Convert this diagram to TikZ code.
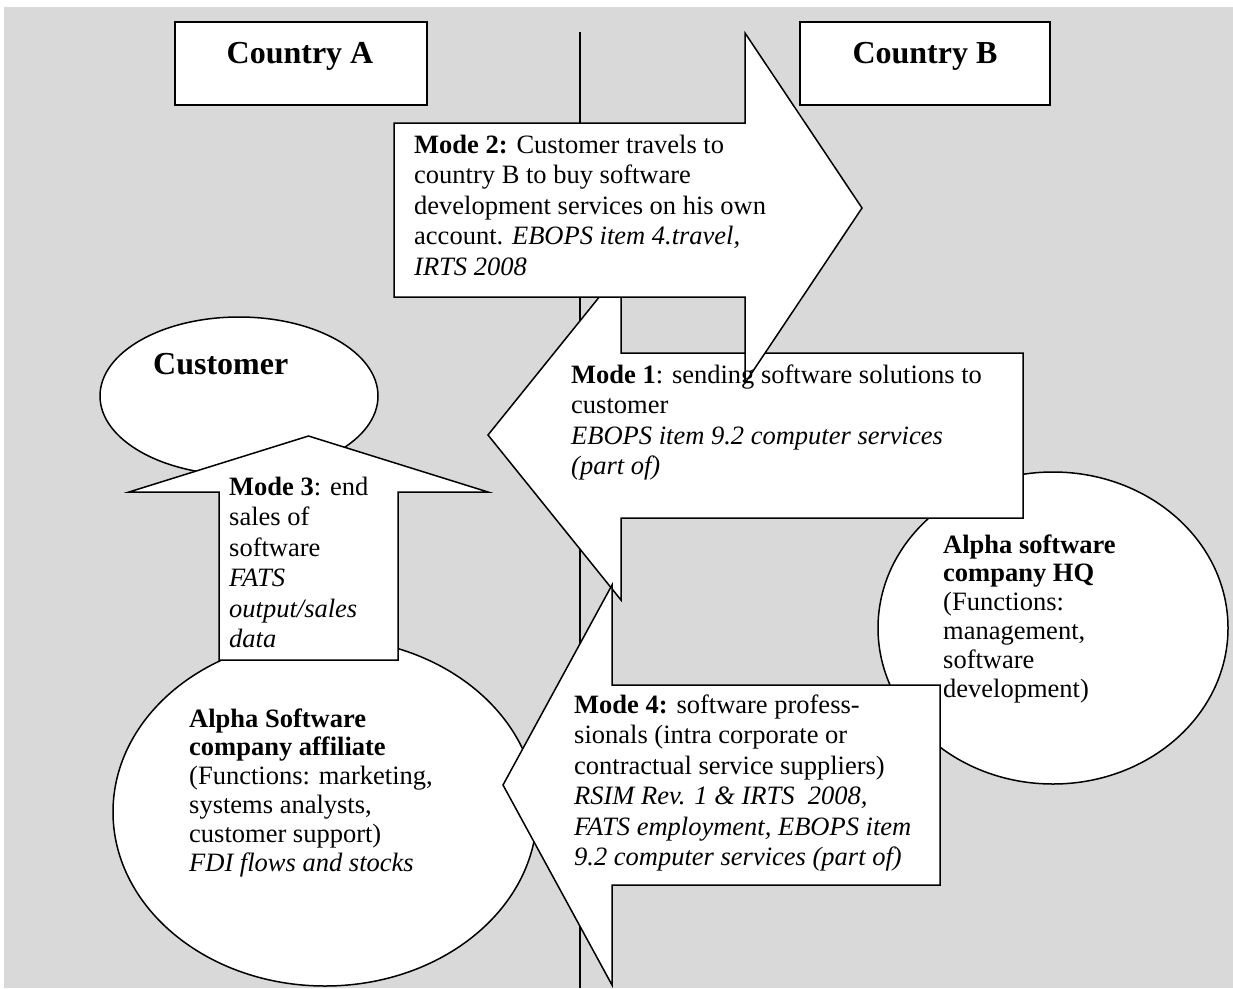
\documentclass[tikz,border=0pt]{standalone}
\usepackage{fontspec}
\setmainfont{Liberation Serif}
\usetikzlibrary{shapes.geometric}
\definecolor{bggray}{HTML}{D9D9D9}
\newcommand\rowsblock[1]{\begin{tabular}[t]{@{}l@{}}#1\end{tabular}}
\begin{document}
\begin{tikzpicture}[x=1pt,y=-1pt,
  shp/.style={draw=black, fill=white, line width=1.5pt, line join=miter},
  cbox/.style={draw=black, fill=white, line width=1.8pt, inner sep=0pt},
  ell/.style={ellipse, draw=black, fill=white, line width=1.5pt, inner sep=0pt},
  ctitle/.style={anchor=base, inner sep=0pt, font=\fontsize{32}{36}\selectfont\bfseries},
  txt/.style={anchor=base west, inner sep=0pt, font=\fontsize{26.5}{30.5}\selectfont},
  txtc/.style={anchor=base west, inner sep=0pt, font=\fontsize{26.5}{28.8}\selectfont}
]
\useasboundingbox (0,0) rectangle (1233,988);
\fill[bggray] (4,7) rectangle (1233,988);

% divider between the countries
\coordinate (dtop) at (580,32);
\coordinate (dbot) at (580,988);
\draw[line width=1.5pt] (dtop) -- (dbot);

% country boxes
\node[cbox, minimum width=252pt, minimum height=83pt] (boxA) at (301,63.5) {};
\node[ctitle] (titleA) at (300,63) {Country A};
\node[cbox, minimum width=250pt, minimum height=83pt] (boxB) at (925,63.5) {};
\node[ctitle] (titleB) at (925,63) {Country B};

% ellipses
\node[ell, minimum width=278pt, minimum height=158pt] (cust) at (239,396) {};
\node[ell, minimum width=424pt, minimum height=348pt] (affil) at (325,812) {};
\node[ell, minimum width=350pt, minimum height=312pt] (hq) at (1053,628) {};

% Mode 1 arrow (left)
\draw[shp] (488,435) -- (621,270) -- (621,353) -- (1023,353) -- (1023,518)
  -- (621,518) -- (621,600) -- cycle;
% Mode 2 arrow (right)
\draw[shp] (394,123) -- (745,123) -- (745,33) -- (862,208) -- (745,383)
  -- (745,297) -- (394,297) -- cycle;
% Mode 4 arrow (left)
\draw[shp] (503,785) -- (612,585) -- (612,685) -- (940,685) -- (940,885)
  -- (612,885) -- (612,985) -- cycle;
% Mode 3 arrow (up)
\draw[shp] (308.5,436) -- (488,492) -- (398,492) -- (398,660) -- (219,660)
  -- (219,492) -- (129,492) -- cycle;

% texts
\node[anchor=base west, inner sep=0pt, font=\fontsize{32}{36}\selectfont\bfseries] (custtext) at (153,374) {Customer};

\node[txt] (m2text) at (414,153) {\rowsblock{%
\textbf{Mode 2:} Customer travels to\\
country B to buy software\\
development services on his own\\
account. \textit{EBOPS item 4.travel,}\\
\textit{IRTS 2008}}};

\node[txt] (m1text) at (571,383) {\rowsblock{%
\textbf{Mode 1}: sending software solutions to\\
customer\\
\textit{EBOPS item 9.2 computer services}\\
\textit{(part of)}}};

\node[txt] (m3text) at (229,495) {\rowsblock{%
\textbf{Mode 3}: end\\
sales of\\
software\\
\textit{FATS}\\
\textit{output/sales}\\
\textit{data}}};

\node[txt] (m4text) at (574,713) {\rowsblock{%
\textbf{Mode 4:} software profess-\\
sionals (intra corporate or\\
contractual service suppliers)\\
\textit{RSIM Rev. 1 \& IRTS~~2008,}\\
\textit{FATS employment, EBOPS item}\\
\textit{9.2 computer services (part of)}}};

\node[txtc] (hqtext) at (943,553) {\rowsblock{%
\textbf{Alpha software}\\
\textbf{company HQ}\\
(Functions:\\
management,\\
software\\
development)}};

\node[txtc] (afftext) at (189,727) {\rowsblock{%
\textbf{Alpha Software}\\
\textbf{company affiliate}\\
(Functions: marketing,\\
systems analysts,\\
customer support)\\
\textit{FDI flows and stocks}}};
\end{tikzpicture}
\end{document}
